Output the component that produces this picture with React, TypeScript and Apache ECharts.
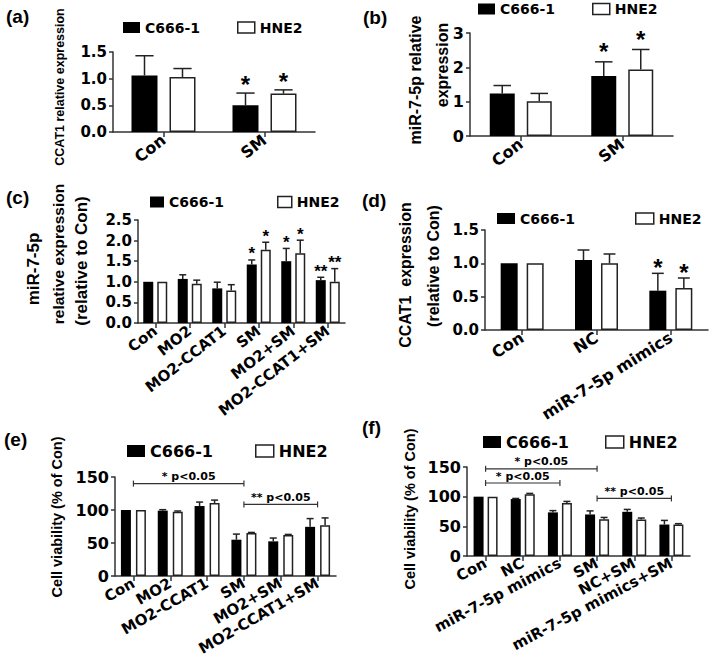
import React, { useEffect, useRef } from 'react';
import * as echarts from 'echarts';

// ---------- data ----------
const seriesNames = ['C666-1', 'HNE2'];

// (a) CCAT1 relative expression
const catsA = ['Con', 'SM'];
const aC666 = [1.06, 0.5];
const aC666Err = [0.37, 0.23];
const aHNE2 = [1.03, 0.72];
const aHNE2Err = [0.16, 0.07];
const aC666Sig = ['', '*'];
const aHNE2Sig = ['', '*'];
const yTicksA = ['0.0', '0.5', '1.0', '1.5'];

// (b) miR-7-5p relative expression
const catsB = ['Con', 'SM'];
const bC666 = [1.24, 1.75];
const bC666Err = [0.23, 0.41];
const bHNE2 = [1.01, 1.94];
const bHNE2Err = [0.23, 0.58];
const bC666Sig = ['', '*'];
const bHNE2Sig = ['', '*'];
const yTicksB = ['0', '1', '2', '3'];

// (c) miR-7-5p relative expression (relative to Con)
const catsC = ['Con', 'MO2', 'MO2-CCAT1', 'SM', 'MO2+SM', 'MO2-CCAT1+SM'];
const cC666 = [1.0, 1.07, 0.84, 1.42, 1.5, 1.04];
const cC666Err = [0, 0.1, 0.15, 0.11, 0.31, 0.07];
const cHNE2 = [1.0, 0.95, 0.79, 1.78, 1.69, 1.0];
const cHNE2Err = [0, 0.09, 0.14, 0.18, 0.32, 0.32];
const cC666Sig = ['', '', '', '*', '*', '**'];
const cHNE2Sig = ['', '', '', '*', '*', '**'];
const yTicksC = ['0.0', '0.5', '1.0', '1.5', '2.0', '2.5'];

// (d) CCAT1 expression (relative to Con)
const catsD = ['Con', 'NC', 'miR-7-5p mimics'];
const dC666 = [1.0, 1.05, 0.59];
const dC666Err = [0, 0.15, 0.26];
const dHNE2 = [1.0, 1.0, 0.63];
const dHNE2Err = [0, 0.14, 0.15];
const dC666Sig = ['', '', '*'];
const dHNE2Sig = ['', '', '*'];
const yTicksD = ['0.0', '0.5', '1.0', '1.5'];

// (e) Cell viability (% of Con)
const catsE = ['Con', 'MO2', 'MO2-CCAT1', 'SM', 'MO2+SM', 'MO2-CCAT1+SM'];
const eC666 = [100, 99, 106, 55, 52.5, 74.5];
const eC666Err = [0, 1.5, 6, 8.5, 5, 12.5];
const eHNE2 = [100, 97.5, 110.5, 65, 62, 77];
const eHNE2Err = [0, 1, 4.5, 1, 1, 11];
const eC666Sig = ['', '', '', '', '', ''];
const eHNE2Sig = ['', '', '', '', '', ''];
const yTicksE = ['0', '50', '100', '150'];
const eBrackets = [
  [0, 3, 140],
  [3, 5, 108.5],
];
const eBracketLabels = ['* p<0.05', '** p<0.05'];

// (f) Cell viability (% of Con)
const catsF = ['Con', 'NC', 'miR-7-5p mimics', 'SM', 'NC+SM', 'miR-7-5p mimics+SM'];
const fC666 = [100, 96, 73.5, 70, 74.5, 53];
const fC666Err = [0, 1, 3, 6, 4, 7];
const fHNE2 = [100, 104, 89.5, 62, 61.5, 53];
const fHNE2Err = [0, 1.5, 2.5, 3, 2.5, 1.5];
const fC666Sig = ['', '', '', '', '', ''];
const fHNE2Sig = ['', '', '', '', '', ''];
const yTicksF = ['0', '50', '100', '150'];
const fBrackets = [
  [0, 3, 147],
  [0, 2, 123],
  [3, 5, 97],
];
const fBracketLabels = ['* p<0.05', '* p<0.05', '** p<0.05'];

// ---------- layout ----------
const TICK_FONT = 'DejaVu Sans';
const TITLE_FONT = 'Liberation Sans';
const AXIS_COLOR = '#333';

const panels = [
  {
    cats: catsA, c: aC666, ce: aC666Err, h: aHNE2, he: aHNE2Err, cs: aC666Sig, hs: aHNE2Sig, ticks: yTicksA,
    max: 1.5, interval: 0.5,
    grid: { left: 113, top: 52, width: 202, height: 80 },
    bw: 26, gap: 12, rot: 38, xFont: 16, yFont: 15, starFont: 24, starOff: 8.5,
    legend: { top: 20.5, left1: 123, left2: 237, font: 14, iw: 17, ih: 11 },
    brackets: null as any, bracketLabels: null as any,
  },
  {
    cats: catsB, c: bC666, ce: bC666Err, h: bHNE2, he: bHNE2Err, cs: bC666Sig, hs: bHNE2Sig, ticks: yTicksB,
    max: 3, interval: 1,
    grid: { left: 470, top: 33, width: 203, height: 103 },
    bw: 25, gap: 12, rot: 38, xFont: 16, yFont: 16, starFont: 24, starOff: 10,
    legend: { top: 2, left1: 478, left2: 592, font: 14, iw: 17, ih: 11 },
    brackets: null as any, bracketLabels: null as any,
  },
  {
    cats: catsC, c: cC666, ce: cC666Err, h: cHNE2, he: cHNE2Err, cs: cC666Sig, hs: cHNE2Sig, ticks: yTicksC,
    max: 2.5, interval: 0.5,
    grid: { left: 138, top: 220, width: 207, height: 103 },
    bw: 10, gap: 4, rot: 38, xFont: 15, yFont: 15, starFont: 17, starOff: 6,
    legend: { top: 195, left1: 150, left2: 277, font: 14, iw: 14, ih: 11 },
    brackets: null as any, bracketLabels: null as any,
  },
  {
    cats: catsD, c: dC666, ce: dC666Err, h: dHNE2, he: dHNE2Err, cs: dC666Sig, hs: dHNE2Sig, ticks: yTicksD,
    max: 1.5, interval: 0.5,
    grid: { left: 485, top: 230, width: 223, height: 100 },
    bw: 17, gap: 9, rot: 32, xFont: 16, yFont: 15, starFont: 24, starOff: 6,
    legend: { top: 211.5, left1: 497, left2: 635, font: 14, iw: 18, ih: 11 },
    brackets: null as any, bracketLabels: null as any,
  },
  {
    cats: catsE, c: eC666, ce: eC666Err, h: eHNE2, he: eHNE2Err, cs: eC666Sig, hs: eHNE2Sig, ticks: yTicksE,
    max: 150, interval: 50,
    grid: { left: 115, top: 477, width: 221, height: 99 },
    bw: 10, gap: 5, rot: 30, xFont: 15, yFont: 16, starFont: 18, starOff: 6,
    legend: { top: 443, left1: 127, left2: 255, font: 16, iw: 18, ih: 12 },
    brackets: eBrackets, bracketLabels: eBracketLabels,
  },
  {
    cats: catsF, c: fC666, ce: fC666Err, h: fHNE2, he: fHNE2Err, cs: fC666Sig, hs: fHNE2Sig, ticks: yTicksF,
    max: 150, interval: 50,
    grid: { left: 467, top: 467, width: 223, height: 89 },
    bw: 10, gap: 4, rot: 28, xFont: 15, yFont: 16, starFont: 18, starOff: 6,
    legend: { top: 434, left1: 483, left2: 605, font: 16, iw: 18, ih: 12 },
    brackets: fBrackets, bracketLabels: fBracketLabels,
  },
];

const panelLabels = [
  { text: '(a)', x: 6, y: 16 },
  { text: '(b)', x: 363, y: 17 },
  { text: '(c)', x: 6, y: 197 },
  { text: '(d)', x: 362, y: 200 },
  { text: '(e)', x: 4, y: 439 },
  { text: '(f)', x: 362, y: 427 },
];

const yTitles = [
  { text: 'CCAT1 relative expression', x: 60, y: 87, size: 12.5 },
  { text: 'miR-7-5p relative', x: 415, y: 80, size: 16 },
  { text: 'expression', x: 442, y: 65, size: 16 },
  { text: 'miR-7-5p', x: 33, y: 269, size: 17 },
  { text: 'relative expression', x: 58, y: 254, size: 15.5 },
  { text: '(relative to Con)', x: 81, y: 261, size: 17 },
  { text: 'CCAT1  expression', x: 405, y: 275, size: 16 },
  { text: '(relative to Con)', x: 433, y: 266, size: 16 },
  { text: 'Cell viability (% of Con)', x: 57, y: 517, size: 14.5 },
  { text: 'Cell viability (% of Con)', x: 410, y: 509, size: 14.5 },
];

function buildOption() {
  const grid: any[] = [];
  const xAxis: any[] = [];
  const yAxis: any[] = [];
  const series: any[] = [];
  const legend: any[] = [];

  panels.forEach((p, i) => {
    grid.push({ ...p.grid, outerBoundsMode: 'none', containLabel: false });
    xAxis.push({
      type: 'category',
      gridIndex: i,
      data: p.cats,
      axisLine: { show: true, lineStyle: { color: AXIS_COLOR, width: 1.5 } },
      axisTick: { show: true, alignWithLabel: true, length: 5, lineStyle: { color: AXIS_COLOR, width: 1.5 } },
      axisLabel: {
        interval: 0,
        rotate: p.rot,
        margin: 6,
        color: '#000',
        fontFamily: TICK_FONT,
        fontWeight: 'bold',
        fontSize: p.xFont,
      },
      splitLine: { show: false },
    });
    const ticks = p.ticks;
    yAxis.push({
      type: 'value',
      gridIndex: i,
      min: 0,
      max: p.max,
      interval: p.interval,
      axisLine: { show: true, lineStyle: { color: AXIS_COLOR, width: 1.5 } },
      axisTick: { show: true, length: 4, lineStyle: { color: AXIS_COLOR, width: 1.5 } },
      axisLabel: {
        margin: 6,
        color: '#000',
        fontFamily: TICK_FONT,
        fontWeight: 'bold',
        fontSize: p.yFont,
        formatter: (v: number) => {
          const idx = Math.round(v / p.interval);
          return ticks[idx] ?? '';
        },
      },
      splitLine: { show: false },
    });

    const barGap = ((p.gap / p.bw) * 100).toFixed(1) + '%';
    series.push({
      type: 'bar',
      name: seriesNames[0],
      xAxisIndex: i,
      yAxisIndex: i,
      data: p.c,
      barWidth: p.bw,
      barGap,
      itemStyle: { color: '#000' },
      z: 2,
    });
    series.push({
      type: 'bar',
      name: seriesNames[1],
      xAxisIndex: i,
      yAxisIndex: i,
      data: p.h,
      barWidth: p.bw,
      barGap,
      itemStyle: { color: '#fff', borderColor: '#222', borderWidth: 1.5 },
      z: 2,
    });

    const makeErr = (vals: number[], errs: number[], sig: string[], side: number) => ({
      type: 'custom',
      xAxisIndex: i,
      yAxisIndex: i,
      z: 5,
      silent: true,
      clip: false,
      encode: { x: 0, y: 1 },
      data: vals.map((v, k) => [k, v, errs[k]]),
      renderItem: (params: any, api: any) => {
        const ci = api.value(0);
        const mean = api.value(1);
        const err = api.value(2);
        const base = api.coord([ci, mean]);
        const top = api.coord([ci, mean + err]);
        const off = (side === 0 ? -1 : 1) * (p.bw + p.gap) / 2;
        const x = base[0] + off;
        const cap = Math.max(6, p.bw * 0.7);
        const children: any[] = [];
        if (err > 0) {
          children.push({
            type: 'line',
            shape: { x1: x, y1: base[1], x2: x, y2: top[1] },
            style: { stroke: '#222', lineWidth: 1.5 },
          });
          children.push({
            type: 'line',
            shape: { x1: x - cap / 2, y1: top[1], x2: x + cap / 2, y2: top[1] },
            style: { stroke: '#222', lineWidth: 1.5 },
          });
        }
        const s = sig[params.dataIndex];
        if (s) {
          children.push({
            type: 'text',
            x,
            y: top[1] - p.starOff,
            style: {
              text: s,
              fill: '#000',
              font: `bold ${p.starFont}px ${TITLE_FONT}`,
              align: 'center',
              textAlign: 'center',
              verticalAlign: 'middle',
              textVerticalAlign: 'middle',
            },
          });
        }
        return { type: 'group', children };
      },
    });
    series.push(makeErr(p.c, p.ce, p.cs, 0));
    series.push(makeErr(p.h, p.he, p.hs, 1));

    if (p.brackets) {
      const labels = p.bracketLabels;
      series.push({
        type: 'custom',
        xAxisIndex: i,
        yAxisIndex: i,
        z: 6,
        silent: true,
        clip: false,
        encode: { x: 0, y: 2 },
        data: p.brackets,
        renderItem: (params: any, api: any) => {
          const a = api.coord([api.value(0), api.value(2)]);
          const b = api.coord([api.value(1), api.value(2)]);
          const y = a[1];
          const t = 3;
          return {
            type: 'group',
            children: [
              { type: 'line', shape: { x1: a[0], y1: y, x2: b[0], y2: y }, style: { stroke: '#333', lineWidth: 1.2 } },
              { type: 'line', shape: { x1: a[0], y1: y - t, x2: a[0], y2: y + t }, style: { stroke: '#333', lineWidth: 1.2 } },
              { type: 'line', shape: { x1: b[0], y1: y - t, x2: b[0], y2: y + t }, style: { stroke: '#333', lineWidth: 1.2 } },
              {
                type: 'text',
                x: (a[0] + b[0]) / 2,
                y: y - 7,
                style: {
                  text: labels[params.dataIndex],
                  fill: '#000',
                  font: `bold 11px ${TICK_FONT}`,
                  align: 'center',
                  textAlign: 'center',
                  verticalAlign: 'middle',
                  textVerticalAlign: 'middle',
                },
              },
            ],
          };
        },
      });
    }

    const L = p.legend;
    const legendBase = {
      top: L.top,
      itemWidth: L.iw,
      itemHeight: L.ih,
      padding: 0,
      selectedMode: false,
      icon: 'rect',
      textStyle: {
        fontFamily: TICK_FONT,
        fontWeight: 'bold',
        fontSize: L.font,
        color: '#000',
        lineHeight: L.font,
      },
    };
    legend.push({
      ...legendBase,
      left: L.left1,
      data: [{ name: seriesNames[0], itemStyle: { color: '#000', borderWidth: 0 } }],
    });
    legend.push({
      ...legendBase,
      left: L.left2,
      data: [{ name: seriesNames[1], itemStyle: { color: '#fff', borderColor: '#222', borderWidth: 1.5 } }],
    });
  });

  const graphic: any[] = [];
  panelLabels.forEach((l) => {
    graphic.push({
      type: 'text',
      x: l.x,
      y: l.y,
      style: {
        text: l.text,
        fill: '#000',
        font: `bold 19px ${TITLE_FONT}`,
        align: 'left',
        textAlign: 'left',
        verticalAlign: 'middle',
        textVerticalAlign: 'middle',
      },
    });
  });
  yTitles.forEach((t) => {
    graphic.push({
      type: 'text',
      x: t.x,
      y: t.y,
      rotation: Math.PI / 2,
      style: {
        text: t.text,
        fill: '#000',
        font: `bold ${t.size}px ${TITLE_FONT}`,
        align: 'center',
        textAlign: 'center',
        verticalAlign: 'middle',
        textVerticalAlign: 'middle',
      },
    });
  });

  return {
    animation: false,
    backgroundColor: '#fff',
    grid,
    xAxis,
    yAxis,
    series,
    legend,
    graphic,
  };
}

export default function App() {
  const ref = useRef<HTMLDivElement>(null);
  useEffect(() => {
    if (!ref.current) return;
    const chart = echarts.init(ref.current, undefined, { renderer: 'svg' });
    chart.setOption(buildOption() as any);
    return () => chart.dispose();
  }, []);
  return (
    <div
      ref={ref}
      style={{ position: 'absolute', left: 0, top: 0, width: 709, height: 669, background: '#fff' }}
    />
  );
}
